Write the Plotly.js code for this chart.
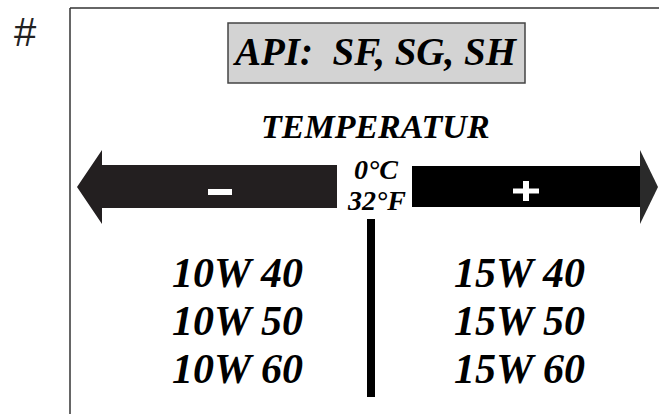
<!DOCTYPE html>
<html>
<head>
<meta charset="utf-8">
<script src="https://cdn.plot.ly/plotly-3.0.1.min.js"></script>
<style>html,body{margin:0;padding:0;background:#fff;}#chart{width:659px;height:414px;}</style>
</head>
<body>
<div id="chart"></div>
<script>
// ---- content (data) ----
const apiTitle = 'API:  SF, SG, SH';
const tempLabel = 'TEMPERATUR';
const thresholdLabels = ['0°C', '32°F'];
const coldGrades = ['10W 40', '10W 50', '10W 60'];
const warmGrades = ['15W 40', '15W 50', '15W 60'];
const markLabel = '#';

// ---- layout constants ----
const W = 659, H = 414;
const serif = 'Liberation Serif';
const ink = '#000000';

const annotations = [];
function txt(text, x, y, size, opts) {
  annotations.push(Object.assign({
    text: '<b><i>' + text + '</i></b>', x: x, y: y, xref: 'x', yref: 'y',
    xanchor: 'center', yanchor: 'middle', showarrow: false,
    font: {family: serif, size: size, color: ink}
  }, opts || {}));
}

txt(markLabel, 25, 32, 40, {text: markLabel, font: {family: 'Liberation Sans', size: 40, color: '#222'}});
txt(apiTitle, 375, 51, 39);
txt(tempLabel, 375, 126, 34);
thresholdLabels.forEach((t, i) => txt(t, 376, 169 + i * 31, 28));
coldGrades.forEach((g, i) => txt(g, 237, 273 + i * 48, 42));
warmGrades.forEach((g, i) => txt(g, 519, 273 + i * 48, 42));

const shapes = [
  // frame
  {type: 'line', x0: 70, y0: 8, x1: 70, y1: 414, line: {color: '#333', width: 1.5}},
  {type: 'line', x0: 70, y0: 8, x1: 659, y1: 8, line: {color: '#333', width: 1.5}},
  // API box
  {type: 'rect', x0: 228, y0: 23, x1: 525, y1: 83, fillcolor: '#d3d3d3', line: {color: '#444', width: 1.5}, layer: 'below'},
  // left arrow
  {type: 'path', path: 'M 77 187 L 102 150 L 102 165 L 337 165 L 337 208 L 102 208 L 102 224 Z', fillcolor: '#231f20', line: {width: 0}},
  // right arrow
  {type: 'rect', x0: 412, y0: 166, x1: 640, y1: 207, fillcolor: '#000', line: {width: 0}},
  {type: 'path', path: 'M 640 150 L 658 187 L 640 224 Z', fillcolor: '#2a2a2a', line: {width: 0}},
  // minus sign
  {type: 'rect', x0: 208, y0: 189, x1: 232, y1: 195, fillcolor: '#fff', line: {width: 0}},
  // plus sign
  {type: 'rect', x0: 513, y0: 188.5, x1: 539, y1: 193.5, fillcolor: '#fff', line: {width: 0}},
  {type: 'rect', x0: 523, y0: 181, x1: 529, y1: 201, fillcolor: '#fff', line: {width: 0}},
  // divider
  {type: 'rect', x0: 367, y0: 219, x1: 375, y1: 397, fillcolor: '#000', line: {width: 0}}
];

const layout = {
  width: W, height: H,
  margin: {l: 0, r: 0, t: 0, b: 0, pad: 0},
  paper_bgcolor: '#fff', plot_bgcolor: '#fff',
  showlegend: false,
  xaxis: {range: [0, W], visible: false, fixedrange: true},
  yaxis: {range: [H, 0], visible: false, fixedrange: true},
  shapes: shapes,
  annotations: annotations
};

Plotly.newPlot('chart', [], layout, {staticPlot: true, displayModeBar: false});
</script>
</body>
</html>
